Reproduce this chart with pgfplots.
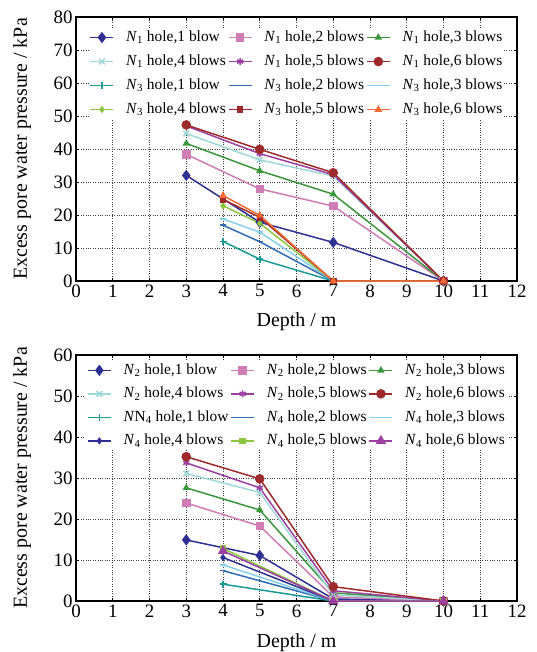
\documentclass[border=0pt]{standalone}
\usepackage{fontspec}
\setmainfont{Liberation Serif}
\usepackage{pgfplots}
\pgfplotsset{compat=1.18}
\definecolor{cNavy}{RGB}{46,49,146}
\definecolor{cPink}{RGB}{208,125,181}
\definecolor{cGreen}{RGB}{58,150,58}
\definecolor{cCyan}{RGB}{158,216,216}
\definecolor{cPurple}{RGB}{155,63,160}
\definecolor{cDRed}{RGB}{158,42,43}
\definecolor{cTeal}{RGB}{26,154,148}
\definecolor{cBlue}{RGB}{47,109,181}
\definecolor{cLBlue}{RGB}{134,207,234}
\definecolor{cLGreen}{RGB}{140,198,63}
\definecolor{cOrange}{RGB}{242,107,53}
\newcommand{\N}[1]{\textit{N}\textsubscript{#1}}
\pgfplotsset{
  mystyle/.style={
    scale only axis, width=441bp,
    xmin=0, xmax=12, ymin=0,
    xtick={0,1,...,12},
    axis line style={line width=1.6bp},
    grid=major,
    major grid style={dotted, black!75, line width=0.8bp},
    tick style={black, line width=0.6bp},
    major tick length=3bp,
    tick align=inside,
    /pgf/number format/assume math mode=true,
    xticklabel={\pgfmathprintnumber{\tick}},
    yticklabel={\pgfmathprintnumber{\tick}},
    ticklabel style={font=\fontsize{19}{19}\selectfont},
    label style={font=\fontsize{20}{22}\selectfont},
    ylabel={Excess pore water pressure / kPa},
    xlabel={Depth / m},
    every axis plot/.append style={line width=1.5bp},
    legend columns=3,
    legend cell align=left,
    legend image code/.code={
      \draw[mark repeat=2,mark phase=2] plot coordinates {(0bp,0bp)(11.5bp,0bp)(23bp,0bp)};},
    legend style={draw=none, fill=white, anchor=north, inner sep=1bp,
      font=\fontsize{15.5}{16}\selectfont,
      nodes={inner sep=1bp, text height=11bp, text depth=3bp},
      /tikz/every even column/.append style={column sep=1bp},
      /tikz/every odd column/.append style={column sep=11bp}},
  }
}
\begin{document}
\begin{tikzpicture}
\useasboundingbox (-76bp,-371bp) rectangle (461bp,281bp);
\begin{axis}[mystyle, height=264bp, ymax=80, ytick={0,10,...,80},
  xlabel style={at={(axis description cs:0.5,-0.1553)}, anchor=center},
  ylabel style={at={(axis description cs:-0.1224,0.5)}, anchor=center},
  legend style={at={(0.5,0.957)}, row sep=8bp}]
\addplot[color=cNavy, mark=diamond*, mark size=4.5bp] coordinates {(3,32.0)(5,17.8)(7,11.7)(10,0)};
\addlegendentry{\N{1} hole,1 blow}
\addplot[color=cPink, mark=square*, mark size=3.5bp] coordinates {(3,38.4)(5,27.9)(7,22.7)(10,0)};
\addlegendentry{\N{1} hole,2 blows}
\addplot[color=cGreen, mark=triangle*, mark size=2.8bp] coordinates {(3,41.7)(5,33.4)(7,26.3)(10,0)};
\addlegendentry{\N{1} hole,3 blows}
\addplot[color=cCyan, mark=x, mark size=4bp] coordinates {(3,44.7)(5,36.7)(7,31.8)(10,0)};
\addlegendentry{\N{1} hole,4 blows}
\addplot[color=cPurple, mark=asterisk, mark size=3.5bp] coordinates {(3,47.0)(5,38.6)(7,32.2)(10,0)};
\addlegendentry{\N{1} hole,5 blows}
\addplot[color=cDRed, mark=*, mark size=4bp] coordinates {(3,47.3)(5,39.9)(7,32.8)(10,0)};
\addlegendentry{\N{1} hole,6 blows}
\addplot[color=cTeal, mark=+, mark size=3.5bp] coordinates {(4,12.0)(5,6.6)(7,0)(10,0)};
\addlegendentry{\N{3} hole,1 blow}
\addplot[color=cBlue, mark=-, mark size=3bp] coordinates {(4,16.9)(5,11.9)(7,0)(10,0)};
\addlegendentry{\N{3} hole,2 blows}
\addplot[color=cLBlue, mark=-, mark size=3bp] coordinates {(4,18.8)(5,14.8)(7,0)(10,0)};
\addlegendentry{\N{3} hole,3 blows}
\addplot[color=cLGreen, mark=diamond*, mark size=2.5bp] coordinates {(4,22.8)(5,17.5)(7,0)(10,0)};
\addlegendentry{\N{3} hole,4 blows}
\addplot[color=cDRed, mark=square*, mark size=2.5bp] coordinates {(4,24.7)(5,19.3)(7,0)(10,0)};
\addlegendentry{\N{3} hole,5 blows}
\addplot[color=cOrange, mark=triangle*, mark size=3bp] coordinates {(4,25.9)(5,19.9)(7,0)(10,0)};
\addlegendentry{\N{3} hole,6 blows}
\end{axis}
\begin{axis}[mystyle, at={(0,-320bp)}, height=246bp, ymax=60, ytick={0,10,...,60},
  xlabel style={at={(axis description cs:0.5,-0.1707)}, anchor=center},
  ylabel style={at={(axis description cs:-0.1224,0.5)}, anchor=center},
  legend style={at={(0.5,0.975)}, row sep=7.5bp}]
\addplot[color=cNavy, mark=diamond*, mark size=4.5bp] coordinates {(3,14.9)(5,11.1)(7,0.5)(10,0)};
\addlegendentry{\N{2} hole,1 blow}
\addplot[color=cPink, mark=square*, mark size=3.5bp] coordinates {(3,23.9)(5,18.3)(7,1.0)(10,0)};
\addlegendentry{\N{2} hole,2 blows}
\addplot[color=cGreen, mark=triangle*, mark size=2.8bp] coordinates {(3,27.6)(5,22.2)(7,2.0)(10,0)};
\addlegendentry{\N{2} hole,3 blows}
\addplot[color=cCyan, mark=x, mark size=4bp] coordinates {(3,31.1)(5,26.5)(7,1.5)(10,0)};
\addlegendentry{\N{2} hole,4 blows}
\addplot[color=cPurple, mark=asterisk, mark size=3.5bp] coordinates {(3,33.7)(5,27.6)(7,2.5)(10,0)};
\addlegendentry{\N{2} hole,5 blows}
\addplot[color=cDRed, mark=*, mark size=4bp] coordinates {(3,35.2)(5,29.8)(7,3.5)(10,0)};
\addlegendentry{\N{2} hole,6 blows}
\addplot[color=cTeal, mark=+, mark size=3.5bp] coordinates {(4,4.1)(7,0)(10,0)};
\addlegendentry{\textit{N}N\textsubscript{4} hole,1 blow}
\addplot[color=cBlue, mark=-, mark size=3bp] coordinates {(4,7.4)(7,0)(10,0)};
\addlegendentry{\N{4} hole,2 blows}
\addplot[color=cLBlue, mark=-, mark size=3bp] coordinates {(4,8.8)(7,0)(10,0)};
\addlegendentry{\N{4} hole,3 blows}
\addplot[color=cNavy, mark=diamond*, mark size=2.5bp] coordinates {(4,10.6)(7,0)(10,0)};
\addlegendentry{\N{4} hole,4 blows}
\addplot[color=cLGreen, mark=square*, mark size=2.5bp] coordinates {(4,12.8)(7,0)(10,0)};
\addlegendentry{\N{4} hole,5 blows}
\addplot[color=cPurple, mark=triangle*, mark size=4.5bp] coordinates {(4,12.2)(7,0)(10,0)};
\addlegendentry{\N{4} hole,6 blows}
\end{axis}
\end{tikzpicture}
\end{document}
